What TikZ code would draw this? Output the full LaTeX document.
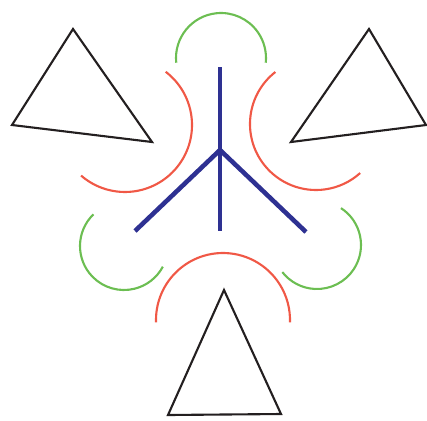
\documentclass[tikz,border=0pt]{standalone}
\usepackage{tikz}

\definecolor{armred}{RGB}{240,88,70}
\definecolor{armgreen}{RGB}{108,190,82}
\definecolor{spokeblue}{RGB}{46,49,146}
\definecolor{triblack}{RGB}{35,31,32}

\begin{document}
\begin{tikzpicture}[x=0.01cm, y=0.01cm,
  tri/.style={draw=triblack, line width=0.6pt, line join=miter},
  redarc/.style={draw=armred, line width=0.6pt},
  greenarc/.style={draw=armgreen, line width=0.6pt},
  spoke/.style={draw=spokeblue, line width=1.3pt}]
  \useasboundingbox (0,0) rectangle (427,420);
  % Triangles
  \draw[tri] (73,391) -- (12,295) -- (152,278) -- cycle;
  \draw[tri] (369,391) -- (291,278) -- (426,295) -- cycle;
  \draw[tri] (224,130) -- (168,5) -- (281,6) -- cycle;
  % Red arcs
  \coordinate (redTL) at (125,295);
  \coordinate (redTR) at (316,296);
  \coordinate (redB) at (223,100);
  \draw[redarc] (redTL) ++(52.6:67) arc[start angle=52.6, end angle=-131, radius=67];
  \draw[redarc] (redTR) ++(128:66) arc[start angle=128, end angle=312, radius=66];
  \draw[redarc] (redB) ++(182:67) arc[start angle=182, end angle=-2, radius=67];
  % Green arcs
  \coordinate (greenT) at (221,362);
  \coordinate (greenL) at (124,174);
  \coordinate (greenR) at (317,175);
  \draw[greenarc] (greenT) ++(186:45) arc[start angle=186, end angle=-6, radius=45];
  \draw[greenarc] (greenL) ++(134:44) arc[start angle=134, end angle=332, radius=44];
  \draw[greenarc] (greenR) ++(57:44) arc[start angle=57, end angle=-142, radius=44];
  % Spokes
  \coordinate (hub) at (220,270);
  \coordinate (up) at (220,353);
  \coordinate (down) at (220,189);
  \coordinate (left) at (135,189);
  \coordinate (right) at (306,188);
  \draw[spoke] (up) -- (down);
  \draw[spoke] (hub) -- (left);
  \draw[spoke] (hub) -- (right);
\end{tikzpicture}
\end{document}
